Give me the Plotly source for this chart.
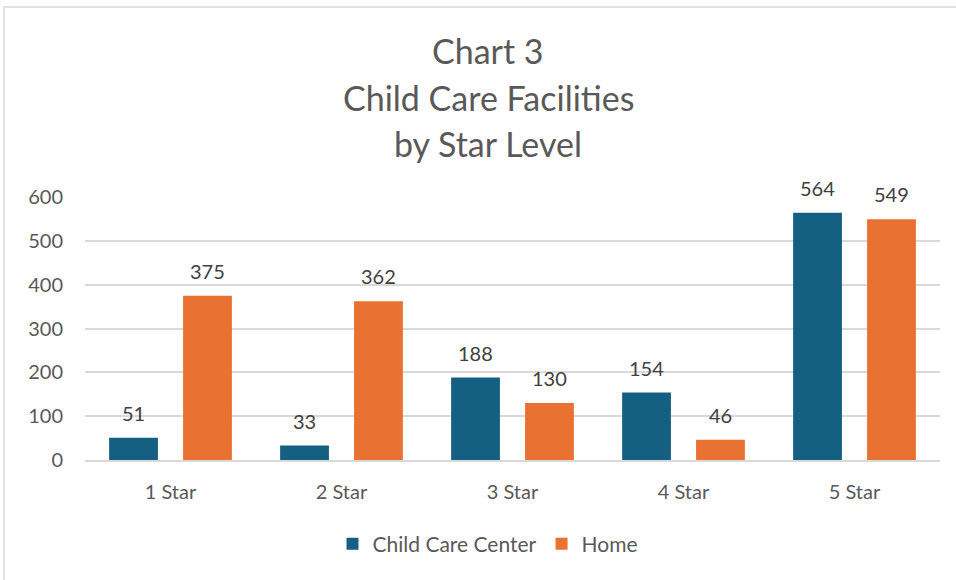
import plotly.graph_objects as go

categories = ["1 Star", "2 Star", "3 Star", "4 Star", "5 Star"]
center_vals = [51, 33, 188, 154, 564]
home_vals = [375, 362, 130, 46, 549]
series_names = ["Child Care Center", "Home"]
title_lines = ["Chart 3", "Child Care Facilities", "by Star Level"]
y_ticks = [0, 100, 200, 300, 400, 500, 600]

TEAL = "#156082"
ORANGE = "#E97132"
GRAY = "#595959"
FONT = "Lato"

fig = go.Figure()
fig.add_trace(go.Bar(x=categories, y=center_vals, name=series_names[0],
                     marker=dict(color=TEAL, line=dict(width=0))))
fig.add_trace(go.Bar(x=categories, y=home_vals, name=series_names[1],
                     marker=dict(color=ORANGE, line=dict(width=0))))

annotations = []
for vals, xs in ((center_vals, -37), (home_vals, 37)):
    for c, v in zip(categories, vals):
        annotations.append(dict(x=c, y=v, xref="x", yref="y", text=str(v),
                                showarrow=False, xshift=xs, yshift=25,
                                font=dict(family=FONT, size=20, color="#404040")))

title_y = [50, 97, 143]
for line, py in zip(title_lines, title_y):
    annotations.append(dict(x=(488 - 85) / 855, y=(460 - py) / 263, xref="paper", yref="paper",
                            text=line, showarrow=False, xanchor="center", yanchor="middle",
                            font=dict(family=FONT, size=34, color=GRAY)))

fig.update_layout(
    width=956, height=580,
    margin=dict(l=85, r=16, t=197, b=120),
    paper_bgcolor="white", plot_bgcolor="white",
    barmode="group", bargap=0.135, bargroupgap=0.34,
    showlegend=True,
    legend=dict(orientation="h", x=(488 - 85) / 855, xanchor="center",
                y=(460 - 544) / 263, yanchor="middle",
                font=dict(family=FONT, size=21, color=GRAY), itemwidth=30),
    annotations=annotations,
    shapes=[dict(type="rect", xref="paper", yref="paper",
                 x0=(4 - 85) / 855, x1=(990 - 85) / 855,
                 y0=(460 - 600) / 263, y1=(460 - 7) / 263,
                 line=dict(color="#d9d9d9", width=1.5), fillcolor="rgba(0,0,0,0)", layer="below")],
    font=dict(family=FONT, color=GRAY),
)
fig.update_xaxes(showgrid=False, showline=True, linecolor="#d9d9d9", linewidth=1.5,
                 tickfont=dict(family=FONT, size=20, color=GRAY), ticks="",
                 ticklabelstandoff=13)
fig.update_yaxes(range=[0, 600], tickvals=y_ticks, showgrid=True, gridcolor="#d9d9d9",
                 gridwidth=1.5, zeroline=False, showline=False,
                 tickfont=dict(family=FONT, size=20, color=GRAY), ticks="",
                 ticklabelstandoff=21)

fig.write_html("out.html", config={"displayModeBar": False},
               post_script="document.body.style.margin='0';document.body.style.overflow='hidden';")
